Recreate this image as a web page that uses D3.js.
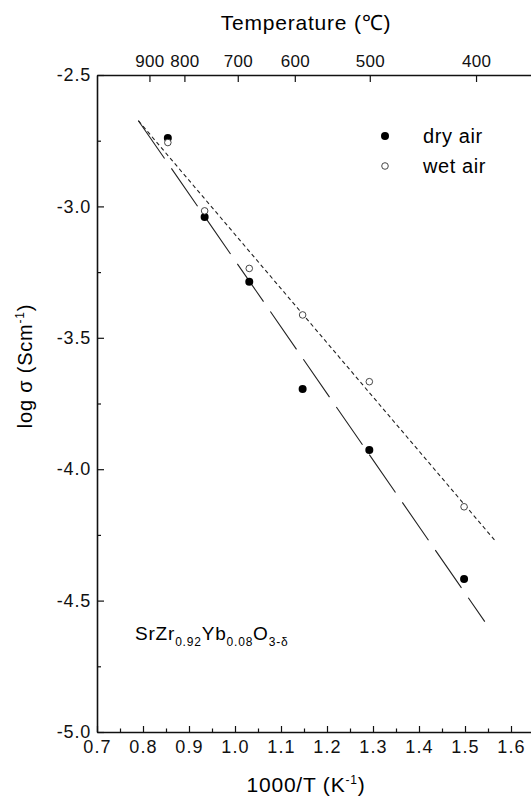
<!DOCTYPE html>
<html>
<head>
<meta charset="utf-8">
<script src="https://cdn.jsdelivr.net/npm/d3@7"></script>
<style>
  body { margin: 0; background: #fff; }
  svg { display: block; font-family: "Liberation Sans", Arial, sans-serif; }
  .axis path, .axis line { stroke: #111; }
  .axis text { fill: #111; }
</style>
</head>
<body>
<script>

    // values
    var invT   = [0.854, 0.934, 1.031, 1.147, 1.292, 1.498];
    var dryAir = [-2.74, -3.04, -3.287, -3.695, -3.927, -4.418];
    var wetAir = [-2.757, -3.017, -3.236, -3.413, -3.667, -4.143];

    // fitted lines, end points
    var dryFit = [[0.79, -2.674], [1.543, -4.58]];
    var wetFit = [[0.79, -2.674], [1.564, -4.269]];

    var xTicks = [0.7, 0.8, 0.9, 1.0, 1.1, 1.2, 1.3, 1.4, 1.5, 1.6];
    var xMinor = [0.75, 0.85, 0.95, 1.05, 1.15, 1.25, 1.35, 1.45, 1.55, 1.65];
    var yTicks = [-2.5, -3.0, -3.5, -4.0, -4.5, -5.0];
    var yMinor = [-2.75, -3.25, -3.75, -4.25, -4.75];

    // top temperature axis (tick positions as drawn, in 1000/T units)
    var tempLabels = [900, 800, 700, 600, 500, 400];
    var tempPos    = [0.814, 0.890, 1.006, 1.130, 1.293, 1.524];

    var width = 531, height = 798;

    var svg = d3.select("body")
    .append("svg")
    .attr("width", width)
    .attr("height", height);

    var x = d3.scaleLinear()
    .domain([0.7, 1.7])
    .range([97, 557]);

    var y = d3.scaleLinear()
    .domain([-5.0, -2.5])
    .range([732, 75]);

    // bottom axis
    var xAxis = d3.axisBottom(x)
    .tickValues(xTicks)
    .tickSizeInner(-6)
    .tickSizeOuter(0)
    .tickPadding(8)
    .tickFormat(function(d) { return d.toFixed(1); });

    var gx = svg.append("g")
    .attr("class", "x axis")
    .attr("transform", "translate(0," + y(-5.0) + ")")
    .call(xAxis);

    svg.append("g")
    .attr("class", "axis")
    .attr("transform", "translate(0," + y(-5.0) + ")")
    .call(d3.axisBottom(x).tickValues(xMinor).tickSizeInner(-3.5).tickSizeOuter(0).tickFormat(""))
    .select(".domain").remove();

    // left axis
    var yAxis = d3.axisLeft(y)
    .tickValues(yTicks)
    .tickSizeInner(-7)
    .tickSizeOuter(0)
    .tickPadding(6)
    .tickFormat(function(d) { return d.toFixed(1); });

    var gy = svg.append("g")
    .attr("class", "y axis")
    .attr("transform", "translate(" + x(0.7) + ",0)")
    .call(yAxis);

    svg.append("g")
    .attr("class", "axis")
    .attr("transform", "translate(" + x(0.7) + ",0)")
    .call(d3.axisLeft(y).tickValues(yMinor).tickSizeInner(-4).tickSizeOuter(0).tickFormat(""))
    .select(".domain").remove();

    // top axis
    var tAxis = d3.axisTop(x)
    .tickValues(tempPos)
    .tickSizeInner(-7)
    .tickSizeOuter(0)
    .tickPadding(8)
    .tickFormat(function(d, i) { return tempLabels[i]; });

    var gt = svg.append("g")
    .attr("class", "t axis")
    .attr("transform", "translate(0," + y(-2.5) + ")")
    .call(tAxis);

    svg.selectAll(".axis .domain").attr("stroke-width", 1.6);
    svg.selectAll(".axis .tick line").attr("stroke-width", 1.2);
    gx.selectAll("text").attr("font-size", 18).attr("letter-spacing", 1.2);
    gy.selectAll("text").attr("font-size", 18).attr("letter-spacing", 0.8);
    gt.selectAll("text").attr("font-size", 17).attr("letter-spacing", 0.3);

    // fit lines
    var line = d3.line()
    .x(function(d) { return x(d[0]); })
    .y(function(d) { return y(d[1]); });

    svg.append("path")
    .datum(dryFit)
    .attr("d", line)
    .attr("fill", "none")
    .attr("stroke", "#222")
    .attr("stroke-width", 1.1)
    .attr("stroke-dasharray", "46,12");

    svg.append("path")
    .datum(wetFit)
    .attr("d", line)
    .attr("fill", "none")
    .attr("stroke", "#222")
    .attr("stroke-width", 1.1)
    .attr("stroke-dasharray", "4,3");

    // points
    svg.selectAll("circle.dry")
    .data(invT)
    .enter().append("circle")
    .attr("class", "dry")
    .attr("cx", function(d) { return x(d); })
    .attr("cy", function(d, i) { return y(dryAir[i]); })
    .attr("r", 4)
    .attr("fill", "#000");

    svg.selectAll("circle.wet")
    .data(invT)
    .enter().append("circle")
    .attr("class", "wet")
    .attr("cx", function(d) { return x(d); })
    .attr("cy", function(d, i) { return y(wetAir[i]); })
    .attr("r", 3.3)
    .attr("fill", "#fff")
    .attr("stroke", "#333")
    .attr("stroke-width", 0.9);

    // legend
    var legendItems = ["dry air", "wet air"];
    var legend = svg.selectAll(".legend")
    .data(legendItems)
    .enter().append("g")
    .attr("class", "legend")
    .attr("transform", function(d, i) { return "translate(385," + (136 + i * 30) + ")"; });

    legend.append("circle")
    .attr("r", function(d, i) { return i == 0 ? 4 : 3.3; })
    .attr("fill", function(d, i) { return i == 0 ? "#000" : "#fff"; })
    .attr("stroke", function(d, i) { return i == 0 ? "none" : "#333"; })
    .attr("stroke-width", 0.9);

    legend.append("text")
    .attr("x", 38)
    .attr("y", 7)
    .attr("font-size", 20)
    .attr("letter-spacing", 0.6)
    .text(function(d) { return d; });

    // axis titles
    svg.append("text")
    .attr("x", 306)
    .attr("y", 30)
    .attr("text-anchor", "middle")
    .attr("font-size", 21)
    .attr("letter-spacing", 0.8)
    .text("Temperature (\u2103)");

    var xt = svg.append("text")
    .attr("x", 306)
    .attr("y", 792)
    .attr("text-anchor", "middle")
    .attr("font-size", 21)
    .attr("letter-spacing", 0.8);
    xt.append("tspan").text("1000/T (K");
    xt.append("tspan").attr("font-size", 12).attr("dy", -8).text("-1");
    xt.append("tspan").attr("dy", 8).text(")");

    var yt = svg.append("text")
    .attr("transform", "translate(32,366) rotate(-90)")
    .attr("text-anchor", "middle")
    .attr("font-size", 20)
    .attr("letter-spacing", 0.8);
    yt.append("tspan").text("log \u03c3  (Scm");
    yt.append("tspan").attr("font-size", 12).attr("dy", -8).text("-1");
    yt.append("tspan").attr("dy", 8).text(")");

    // composition label
    var comp = svg.append("text")
    .attr("x", 135)
    .attr("y", 640)
    .attr("font-size", 19)
    .attr("letter-spacing", 0.8);
    comp.append("tspan").text("SrZr");
    comp.append("tspan").attr("font-size", 12).attr("dy", 6).text("0.92");
    comp.append("tspan").attr("dy", -6).text("Yb");
    comp.append("tspan").attr("font-size", 12).attr("dy", 6).text("0.08");
    comp.append("tspan").attr("dy", -6).text("O");
    comp.append("tspan").attr("font-size", 12).attr("dy", 6).text("3-\u03b4");

</script>
</body>
</html>
